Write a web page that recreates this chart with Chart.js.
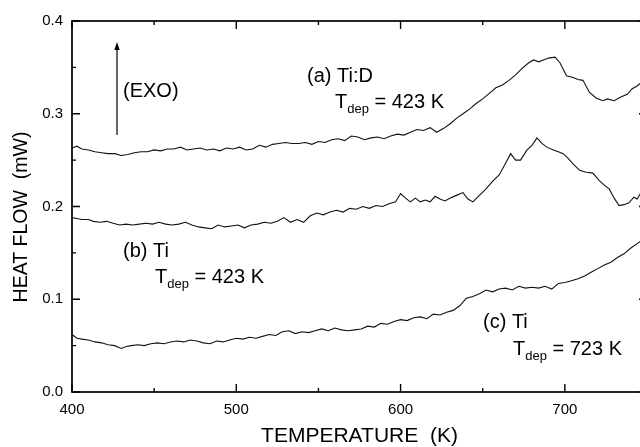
<!DOCTYPE html>
<html>
<head>
<meta charset="utf-8">
<script src="https://cdn.jsdelivr.net/npm/chart.js@4/dist/chart.umd.min.js"></script>
<style>
  html, body { margin: 0; padding: 0; background: #fff; overflow: hidden; }
  #wrap { width: 640px; height: 447px; overflow: hidden; }
</style>
</head>
<body>
<div id="wrap"><canvas id="dsc" width="660" height="447"></canvas></div>
<script>
// (a) Ti:D, Tdep = 423 K
const tempA = [400, 403, 406, 410, 414, 418, 422, 426, 430, 434, 438, 442, 446, 450, 454, 458, 462, 466, 470, 474, 478, 482, 486, 490, 494, 498, 502, 506, 510, 514, 518, 522, 526, 530, 534, 538, 542, 546, 550, 554, 558, 562, 566, 570, 574, 578, 582, 586, 590, 594, 598, 602, 606, 610, 614, 618, 622, 626, 630, 634, 638, 642, 646, 650, 654, 658, 662, 666, 670, 674, 678, 681, 684, 687, 690, 694, 697, 701, 705, 708, 711, 715, 719, 723, 726, 730, 734, 738, 741, 744, 748];
const flowA = [.263, .265, .262, .261, .259, .258, .257, .257, .255, .256, .258, .259, .259, .261, .260, .262, .262, .264, .261, .262, .263, .261, .262, .260, .263, .262, .264, .261, .262, .266, .264, .267, .268, .269, .268, .268, .269, .267, .270, .269, .272, .273, .271, .276, .275, .272, .274, .275, .273, .276, .278, .277, .280, .283, .282, .285, .280, .284, .289, .295, .300, .305, .311, .316, .322, .328, .331, .336, .342, .349, .355, .358, .356, .358, .360, .361, .355, .341, .339, .337, .336, .323, .317, .314, .316, .314, .318, .321, .327, .330, .336];

// (b) Ti, Tdep = 423 K
const tempB = [400, 403, 406, 410, 413, 417, 421, 425, 429, 433, 437, 441, 445, 449, 453, 457, 461, 465, 469, 473, 477, 481, 485, 489, 493, 497, 501, 505, 509, 513, 517, 521, 525, 529, 533, 537, 541, 545, 549, 553, 557, 561, 565, 569, 573, 577, 581, 585, 589, 593, 597, 600, 603, 606, 609, 612, 615, 618, 621, 624, 627, 630, 634, 638, 641, 644, 648, 652, 656, 660, 664, 667, 670, 673, 677, 680, 683, 686, 689, 693, 696, 699, 702, 705, 709, 713, 717, 721, 724, 727, 730, 733, 736, 739, 742, 744, 746, 748];
const flowB = [.188, .187, .186, .186, .184, .183, .184, .182, .180, .181, .180, .181, .182, .181, .183, .181, .180, .181, .183, .180, .178, .177, .176, .180, .178, .179, .180, .177, .180, .181, .183, .182, .184, .188, .183, .186, .183, .190, .193, .191, .194, .196, .194, .198, .197, .200, .198, .201, .200, .203, .205, .214, .209, .205, .209, .205, .207, .205, .211, .208, .206, .209, .212, .215, .208, .205, .212, .219, .227, .234, .247, .257, .250, .250, .261, .266, .274, .268, .264, .261, .259, .257, .252, .246, .239, .237, .236, .228, .223, .219, .209, .201, .202, .204, .210, .208, .214, .219];

// (c) Ti, Tdep = 723 K
const tempC = [400, 403, 406, 410, 414, 418, 422, 426, 430, 433, 436, 440, 444, 448, 452, 456, 460, 464, 468, 472, 476, 480, 484, 488, 492, 496, 500, 504, 508, 512, 516, 520, 524, 528, 532, 536, 540, 544, 548, 552, 556, 560, 564, 568, 572, 576, 580, 584, 588, 592, 596, 600, 604, 608, 612, 616, 620, 624, 628, 632, 636, 640, 644, 648, 652, 656, 660, 664, 668, 672, 676, 680, 684, 688, 692, 696, 700, 704, 708, 712, 716, 720, 724, 728, 732, 736, 740, 744, 748];
const flowC = [.062, .058, .057, .056, .054, .053, .051, .050, .047, .049, .050, .051, .050, .052, .053, .052, .054, .055, .054, .056, .055, .053, .052, .055, .054, .056, .058, .057, .059, .058, .060, .062, .061, .065, .066, .063, .065, .064, .066, .068, .066, .069, .067, .066, .067, .068, .071, .070, .074, .073, .076, .078, .077, .080, .081, .079, .084, .083, .086, .088, .093, .101, .103, .106, .110, .108, .111, .112, .110, .114, .112, .113, .112, .114, .111, .117, .118, .120, .122, .125, .129, .133, .137, .140, .145, .149, .155, .160, .165];

const xTicks = [400, 500, 600, 700];
const xMinor = [450, 550, 650, 750];
const yTicks = [0, 0.1, 0.2, 0.3, 0.4];
const yMinor = [0.05, 0.15, 0.25, 0.35];

const FONT = '"Liberation Sans", Arial, sans-serif';

function pairs(xs, ys) {
  return xs.map((x, i) => ({ x: x, y: ys[i] }));
}

function subLabel(ctx, x, y, lead, sub, rest) {
  ctx.font = '20px ' + FONT;
  ctx.fillText(lead, x, y);
  let w = ctx.measureText(lead).width;
  ctx.font = '13px ' + FONT;
  ctx.fillText(sub, x + w, y + 5);
  w += ctx.measureText(sub).width;
  ctx.font = '20px ' + FONT;
  ctx.fillText(rest, x + w, y);
}

const frame = {
  id: 'frame',
  afterDraw(chart) {
    const { ctx, chartArea: a, scales: { x, y } } = chart;
    ctx.save();
    ctx.strokeStyle = '#000';
    ctx.lineWidth = 1.7;
    ctx.strokeRect(a.left, a.top, a.right - a.left, a.bottom - a.top);

    ctx.lineWidth = 1.4;
    ctx.beginPath();
    const tick = (vals, len) => {
      vals.forEach(v => {
        const px = x.getPixelForValue(v);
        ctx.moveTo(px, a.bottom); ctx.lineTo(px, a.bottom - len);
        ctx.moveTo(px, a.top); ctx.lineTo(px, a.top + len);
      });
    };
    const ytick = (vals, len) => {
      vals.forEach(v => {
        const py = y.getPixelForValue(v);
        ctx.moveTo(a.left, py); ctx.lineTo(a.left + len, py);
        ctx.moveTo(a.right, py); ctx.lineTo(a.right - len, py);
      });
    };
    tick(xTicks, 8); tick(xMinor, 4);
    ytick(yTicks, 8); ytick(yMinor, 4);
    ctx.stroke();

    // EXO arrow
    ctx.lineWidth = 1.2;
    ctx.beginPath();
    ctx.moveTo(117, 135); ctx.lineTo(117, 48);
    ctx.stroke();
    ctx.beginPath();
    ctx.moveTo(117, 42); ctx.lineTo(114.3, 50); ctx.lineTo(119.7, 50);
    ctx.closePath();
    ctx.fillStyle = '#000';
    ctx.fill();

    ctx.fillStyle = '#000';
    ctx.textBaseline = 'alphabetic';
    ctx.textAlign = 'left';
    ctx.font = '20px ' + FONT;
    ctx.fillText('(EXO)', 123, 97);
    ctx.fillText('(a) Ti:D', 307, 82);
    subLabel(ctx, 335, 108, 'T', 'dep', ' = 423 K');
    ctx.font = '20px ' + FONT;
    ctx.fillText('(b) Ti', 123, 257);
    subLabel(ctx, 155, 283, 'T', 'dep', ' = 423 K');
    ctx.font = '20px ' + FONT;
    ctx.fillText('(c) Ti', 483, 328);
    subLabel(ctx, 513, 355, 'T', 'dep', ' = 723 K');

    // y axis title
    ctx.translate(22, 217);
    ctx.rotate(-Math.PI / 2);
    ctx.textAlign = 'center';
    ctx.textBaseline = 'middle';
    ctx.font = '19.5px ' + FONT;
    ctx.fillText('HEAT FLOW  (mW)', 0, 0);
    ctx.restore();
  }
};

const line = (xs, ys) => ({
  data: pairs(xs, ys),
  borderColor: '#111',
  borderWidth: 1.1,
  pointRadius: 0,
  tension: 0,
  fill: false
});

new Chart(document.getElementById('dsc'), {
  type: 'line',
  data: { datasets: [line(tempA, flowA), line(tempB, flowB), line(tempC, flowC)] },
  options: {
    responsive: false,
    animation: false,
    events: [],
    layout: { padding: { left: 0, right: 13, top: 21, bottom: 0 } },
    plugins: { legend: { display: false }, tooltip: { enabled: false } },
    scales: {
      x: {
        type: 'linear',
        min: 400, max: 750,
        afterFit: s => { s.height = 55; },
        afterBuildTicks: s => { s.ticks = xTicks.map(v => ({ value: v })); },
        grid: { display: false, drawTicks: false },
        border: { display: false },
        ticks: { color: '#000', font: { family: FONT, size: 15 }, padding: 9, maxRotation: 0 },
        title: { display: true, text: 'TEMPERATURE  (K)', color: '#000', font: { family: FONT, size: 21 }, padding: { top: 0, bottom: -2 } }
      },
      y: {
        min: 0, max: 0.4,
        afterFit: s => { s.width = 72; },
        afterBuildTicks: s => { s.ticks = yTicks.map(v => ({ value: v })); },
        grid: { display: false, drawTicks: false },
        border: { display: false },
        ticks: { color: '#000', font: { family: FONT, size: 15 }, padding: 9, callback: v => v.toFixed(1) }
      }
    }
  },
  plugins: [frame]
});
</script>
</body>
</html>
